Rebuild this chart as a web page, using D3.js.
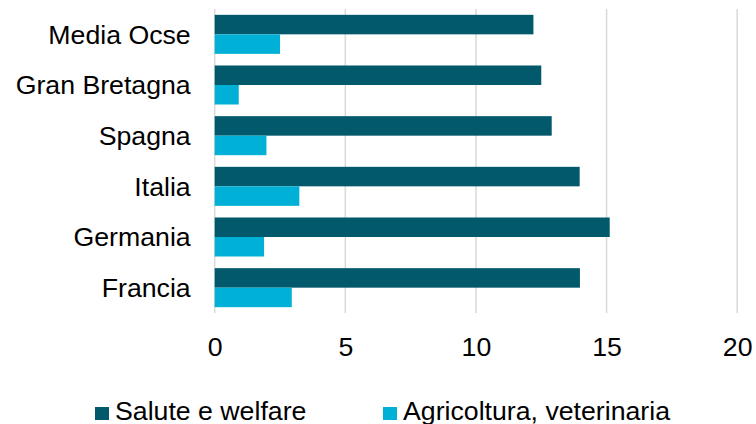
<!DOCTYPE html>
<html><head><meta charset="utf-8">
<script src="https://cdn.jsdelivr.net/npm/d3@7"></script>
<style>body{margin:0;background:#fff}svg{display:block;font-family:"Liberation Sans",Arial,sans-serif}</style>
</head><body>
<svg id="c" width="756" height="424"></svg>
<script>
const categories = ["Media Ocse","Gran Bretagna","Spagna","Italia","Germania","Francia"];
const seriesNames = ["Salute e welfare","Agricoltura, veterinaria"];
const salute = [12.2, 12.5, 12.9, 13.97, 15.12, 13.98];
const agricoltura = [2.5, 0.92, 1.98, 3.24, 1.89, 2.95];
const ticks = [0,5,10,15,20];
const colors = ["#03596C","#00B0D6"];

const FS = 26.7;
const svg = d3.select("#c");
const x = d3.scaleLinear().domain([0,20]).range([214.7,737.2]);
const y = d3.scaleBand().domain(categories).range([9,313]).paddingInner(0.23).paddingOuter(0.115);
const ys = d3.scaleBand().domain(seriesNames).range([0,y.bandwidth()]);

// gridlines
svg.append("g").selectAll("line").data(ticks).join("line")
  .attr("x1",d=>x(d)).attr("x2",d=>x(d)).attr("y1",9).attr("y2",313)
  .attr("stroke","#d9d9d9").attr("stroke-width",1.5);

const series = [salute, agricoltura];
const g = svg.append("g");
series.forEach((vals,si)=>{
  g.selectAll(null).data(categories).join("rect")
    .attr("x",x(0)).attr("y",(c)=>y(c)+ys(seriesNames[si]))
    .attr("width",(c,i)=>x(vals[i])-x(0)).attr("height",ys.bandwidth())
    .attr("fill",colors[si]);
});

// y axis labels
const ya = svg.append("g").attr("transform",`translate(${x(0)},0)`)
  .call(d3.axisLeft(y).tickSize(0).tickPadding(24));
ya.select(".domain").remove();
ya.selectAll("text").attr("font-size",FS).attr("fill","#000").attr("font-family","Liberation Sans, Arial, sans-serif").attr("dy","0.35em");

// x axis labels
const xa = svg.append("g").attr("transform","translate(0,313)")
  .call(d3.axisBottom(x).tickValues(ticks).tickSize(0).tickPadding(24).tickFormat(d3.format("d")));
xa.select(".domain").remove();
xa.selectAll("text").attr("font-size",FS).attr("fill","#000").attr("font-family","Liberation Sans, Arial, sans-serif");

// legend
const legX = [95, 383];
const leg = svg.append("g").selectAll("g").data(seriesNames).join("g")
  .attr("transform",(d,i)=>`translate(${legX[i]},0)`);
leg.append("rect").attr("x",0).attr("y",407).attr("width",14).attr("height",13).attr("fill",(d,i)=>colors[i]);
leg.append("text").attr("x",20).attr("y",420).attr("font-size",FS).attr("fill","#000").text(d=>d);
</script>
</body></html>
